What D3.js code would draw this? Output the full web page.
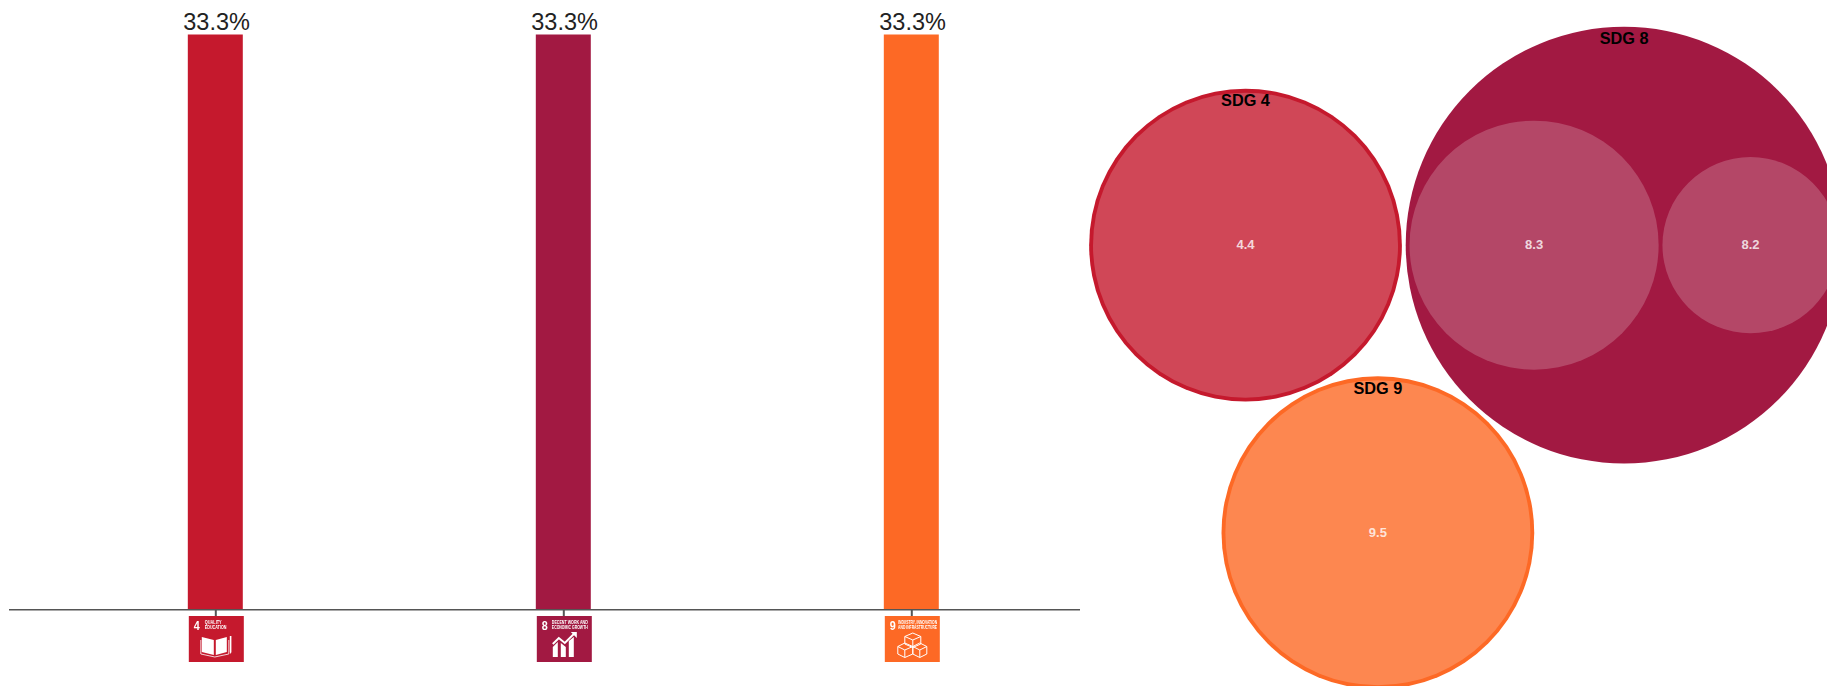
<!DOCTYPE html>
<html>
<head>
<meta charset="utf-8">
<script src="https://cdn.jsdelivr.net/npm/d3@7"></script>
<style>
  html, body { margin: 0; padding: 0; background: #fff; }
  svg { display: block; }
  text { font-family: "Liberation Sans", Arial, sans-serif; }
</style>
</head>
<body>
<svg id="chart" width="1827" height="686"></svg>
<script>
const goals = ["4", "8", "9"];
const goalShares = [33.3, 33.3, 33.3];
const goalColors = ["#C5192D", "#A21942", "#FD6925"];
const goalTitles = [
  ["QUALITY", "EDUCATION"],
  ["DECENT WORK AND", "ECONOMIC GROWTH"],
  ["INDUSTRY, INNOVATION", "AND INFRASTRUCTURE"]
];

const targetNames = ["4.4", "8.3", "8.2", "9.5"];
const targetGoals = ["4", "8", "8", "9"];
const targetCounts = [3, 2, 1, 3];

const svg = d3.select("#chart");

// --- bars ---
const x = d3.scaleBand().domain(goals).range([41.3, 1085.3]).paddingInner(0.842).paddingOuter(0.421);
const y = d3.scaleLinear().domain([0, 33.3]).range([609.7, 34.5]);

svg.selectAll("rect.bar")
  .data(goals)
  .join("rect")
  .attr("class", "bar")
  .attr("x", d => x(d))
  .attr("y", (d, i) => y(goalShares[i]))
  .attr("width", x.bandwidth())
  .attr("height", (d, i) => y(0) - y(goalShares[i]))
  .attr("fill", (d, i) => goalColors[i]);

svg.selectAll("text.share")
  .data(goals)
  .join("text")
  .attr("class", "share")
  .attr("x", d => x(d) + x.bandwidth() / 2 + 1.3)
  .attr("y", (d, i) => y(goalShares[i]) - 4.5)
  .attr("text-anchor", "middle")
  .attr("font-size", 23.5)
  .attr("fill", "#222")
  .text((d, i) => goalShares[i] + "%");

const axis = svg.append("g")
  .attr("transform", "translate(0.5,609.7)")
  .call(d3.axisBottom(x).tickSize(7).tickFormat(""));
axis.select(".domain").remove();
axis.selectAll("line").attr("stroke", "#555").attr("stroke-width", 2);
svg.append("line")
  .attr("x1", 9).attr("x2", 1080)
  .attr("y1", 609.7).attr("y2", 609.7)
  .attr("stroke", "#555").attr("stroke-width", 1.6);

// --- goal tiles under the axis ---
const tileW = 55, tileH = 46;
const titleLeft = [16, 15, 13.3];
const titleCharW = 2.4, titleMaxW = 39;
const glyphs = {
  "4": [
    { d: "M13 21 L25 24 V39 L13 36 Z M27 24 L38 21 V36 L27 39 Z", fill: "#fff" },
    { d: "M12 24 V38 L26 41 L40 38 V24", stroke: "#fff", w: 0.8 },
    { d: "M41 20 H42.6 V36 L41.8 38 L41 36 Z", fill: "#fff" }
  ],
  "8": [
    { d: "M16 28 L22 22 L28 27 L38 17", stroke: "#fff", w: 2 },
    { d: "M34 16 H40 V22 Z", fill: "#fff" },
    { d: "M16 31 L21 26 V41 H16 Z M24 27 L29 31 V41 H24 Z M32 25 L37 21 V41 H32 Z", fill: "#fff" }
  ],
  "9": [
    { d: "M28 17 L36 20.5 V28 L28 31.5 L20 28 V20.5 Z M20 20.5 L28 24 L36 20.5 M28 24 V31.5", stroke: "#fff", w: 1 },
    { d: "M20 27 L28 30.5 V38 L20 41.5 L13 38 V30.5 Z M13 30.5 L20 34 L28 30.5 M20 34 V41.5", stroke: "#fff", w: 1 },
    { d: "M35 27 L42 30.5 V38 L35 41.5 L28 38 V30.5 Z M28 30.5 L35 34 L42 30.5 M35 34 V41.5", stroke: "#fff", w: 1 }
  ]
};

const tiles = svg.selectAll("g.tile")
  .data(goals)
  .join("g")
  .attr("class", "tile")
  .attr("transform", d => `translate(${x(d) + 1},616)`)
  .style("filter", "blur(0.45px)");

tiles.append("rect")
  .attr("width", tileW)
  .attr("height", tileH)
  .attr("fill", (d, i) => goalColors[i]);

tiles.append("text")
  .attr("x", 5)
  .attr("y", 14)
  .attr("font-size", 13.5)
  .attr("font-weight", "bold")
  .attr("textLength", 6)
  .attr("lengthAdjust", "spacingAndGlyphs")
  .attr("fill", "#fff")
  .text(d => d);

tiles.each(function (d, i) {
  const tile = d3.select(this);
  goalTitles[i].forEach((line, j) => {
    tile.append("text")
      .attr("x", titleLeft[i])
      .attr("y", 7.6 + j * 5.6)
      .attr("font-size", 4.6)
      .attr("font-weight", "bold")
      .attr("textLength", Math.min(line.length * titleCharW, titleMaxW))
      .attr("lengthAdjust", "spacingAndGlyphs")
      .attr("fill", "#fff")
      .text(line);
  });
  glyphs[d].forEach(g => {
    tile.append("path")
      .attr("d", g.d)
      .attr("fill", g.fill || "none")
      .attr("stroke", g.stroke || "none")
      .attr("stroke-width", g.w || 0);
  });
});

// --- circle pack ---
const packRows = [{ name: "root" }]
  .concat(goals.map(g => ({ name: "SDG " + g, parent: "root" })))
  .concat(targetNames.map((t, i) => ({ name: t, parent: "SDG " + targetGoals[i], count: targetCounts[i] })));

const root = d3.stratify()
  .id(d => d.name)
  .parentId(d => d.parent)(packRows)
  .sum(d => d.count || 0);

d3.pack().size([788, 788]).padding(4)(root);

const packG = svg.append("g").attr("transform", "translate(1074,-77)");

const sdgNodes = root.children;
const leafNodes = root.leaves();

packG.selectAll("circle.sdg")
  .data(sdgNodes)
  .join("circle")
  .attr("class", "sdg")
  .attr("cx", d => d.x)
  .attr("cy", d => d.y)
  .attr("r", d => d.r)
  .attr("fill", (d, i) => goalColors[i]);

packG.selectAll("circle.target")
  .data(leafNodes)
  .join("circle")
  .attr("class", "target")
  .attr("cx", d => d.x)
  .attr("cy", d => d.y)
  .attr("r", d => d.r)
  .attr("fill", "#fff")
  .attr("fill-opacity", 0.2);

packG.selectAll("text.target")
  .data(leafNodes)
  .join("text")
  .attr("class", "target")
  .attr("x", d => d.x)
  .attr("y", d => d.y + 4)
  .attr("text-anchor", "middle")
  .attr("font-size", 13)
  .attr("font-weight", "bold")
  .attr("fill", "#fff")
  .attr("fill-opacity", 0.8)
  .text(d => d.id);

packG.selectAll("text.sdg")
  .data(sdgNodes)
  .join("text")
  .attr("class", "sdg")
  .attr("x", d => d.x)
  .attr("y", d => d.y - d.r + 17.5)
  .attr("text-anchor", "middle")
  .attr("font-size", 16.3)
  .attr("font-weight", "bold")
  .attr("fill", "#000")
  .text(d => d.id);
</script>
</body>
</html>
